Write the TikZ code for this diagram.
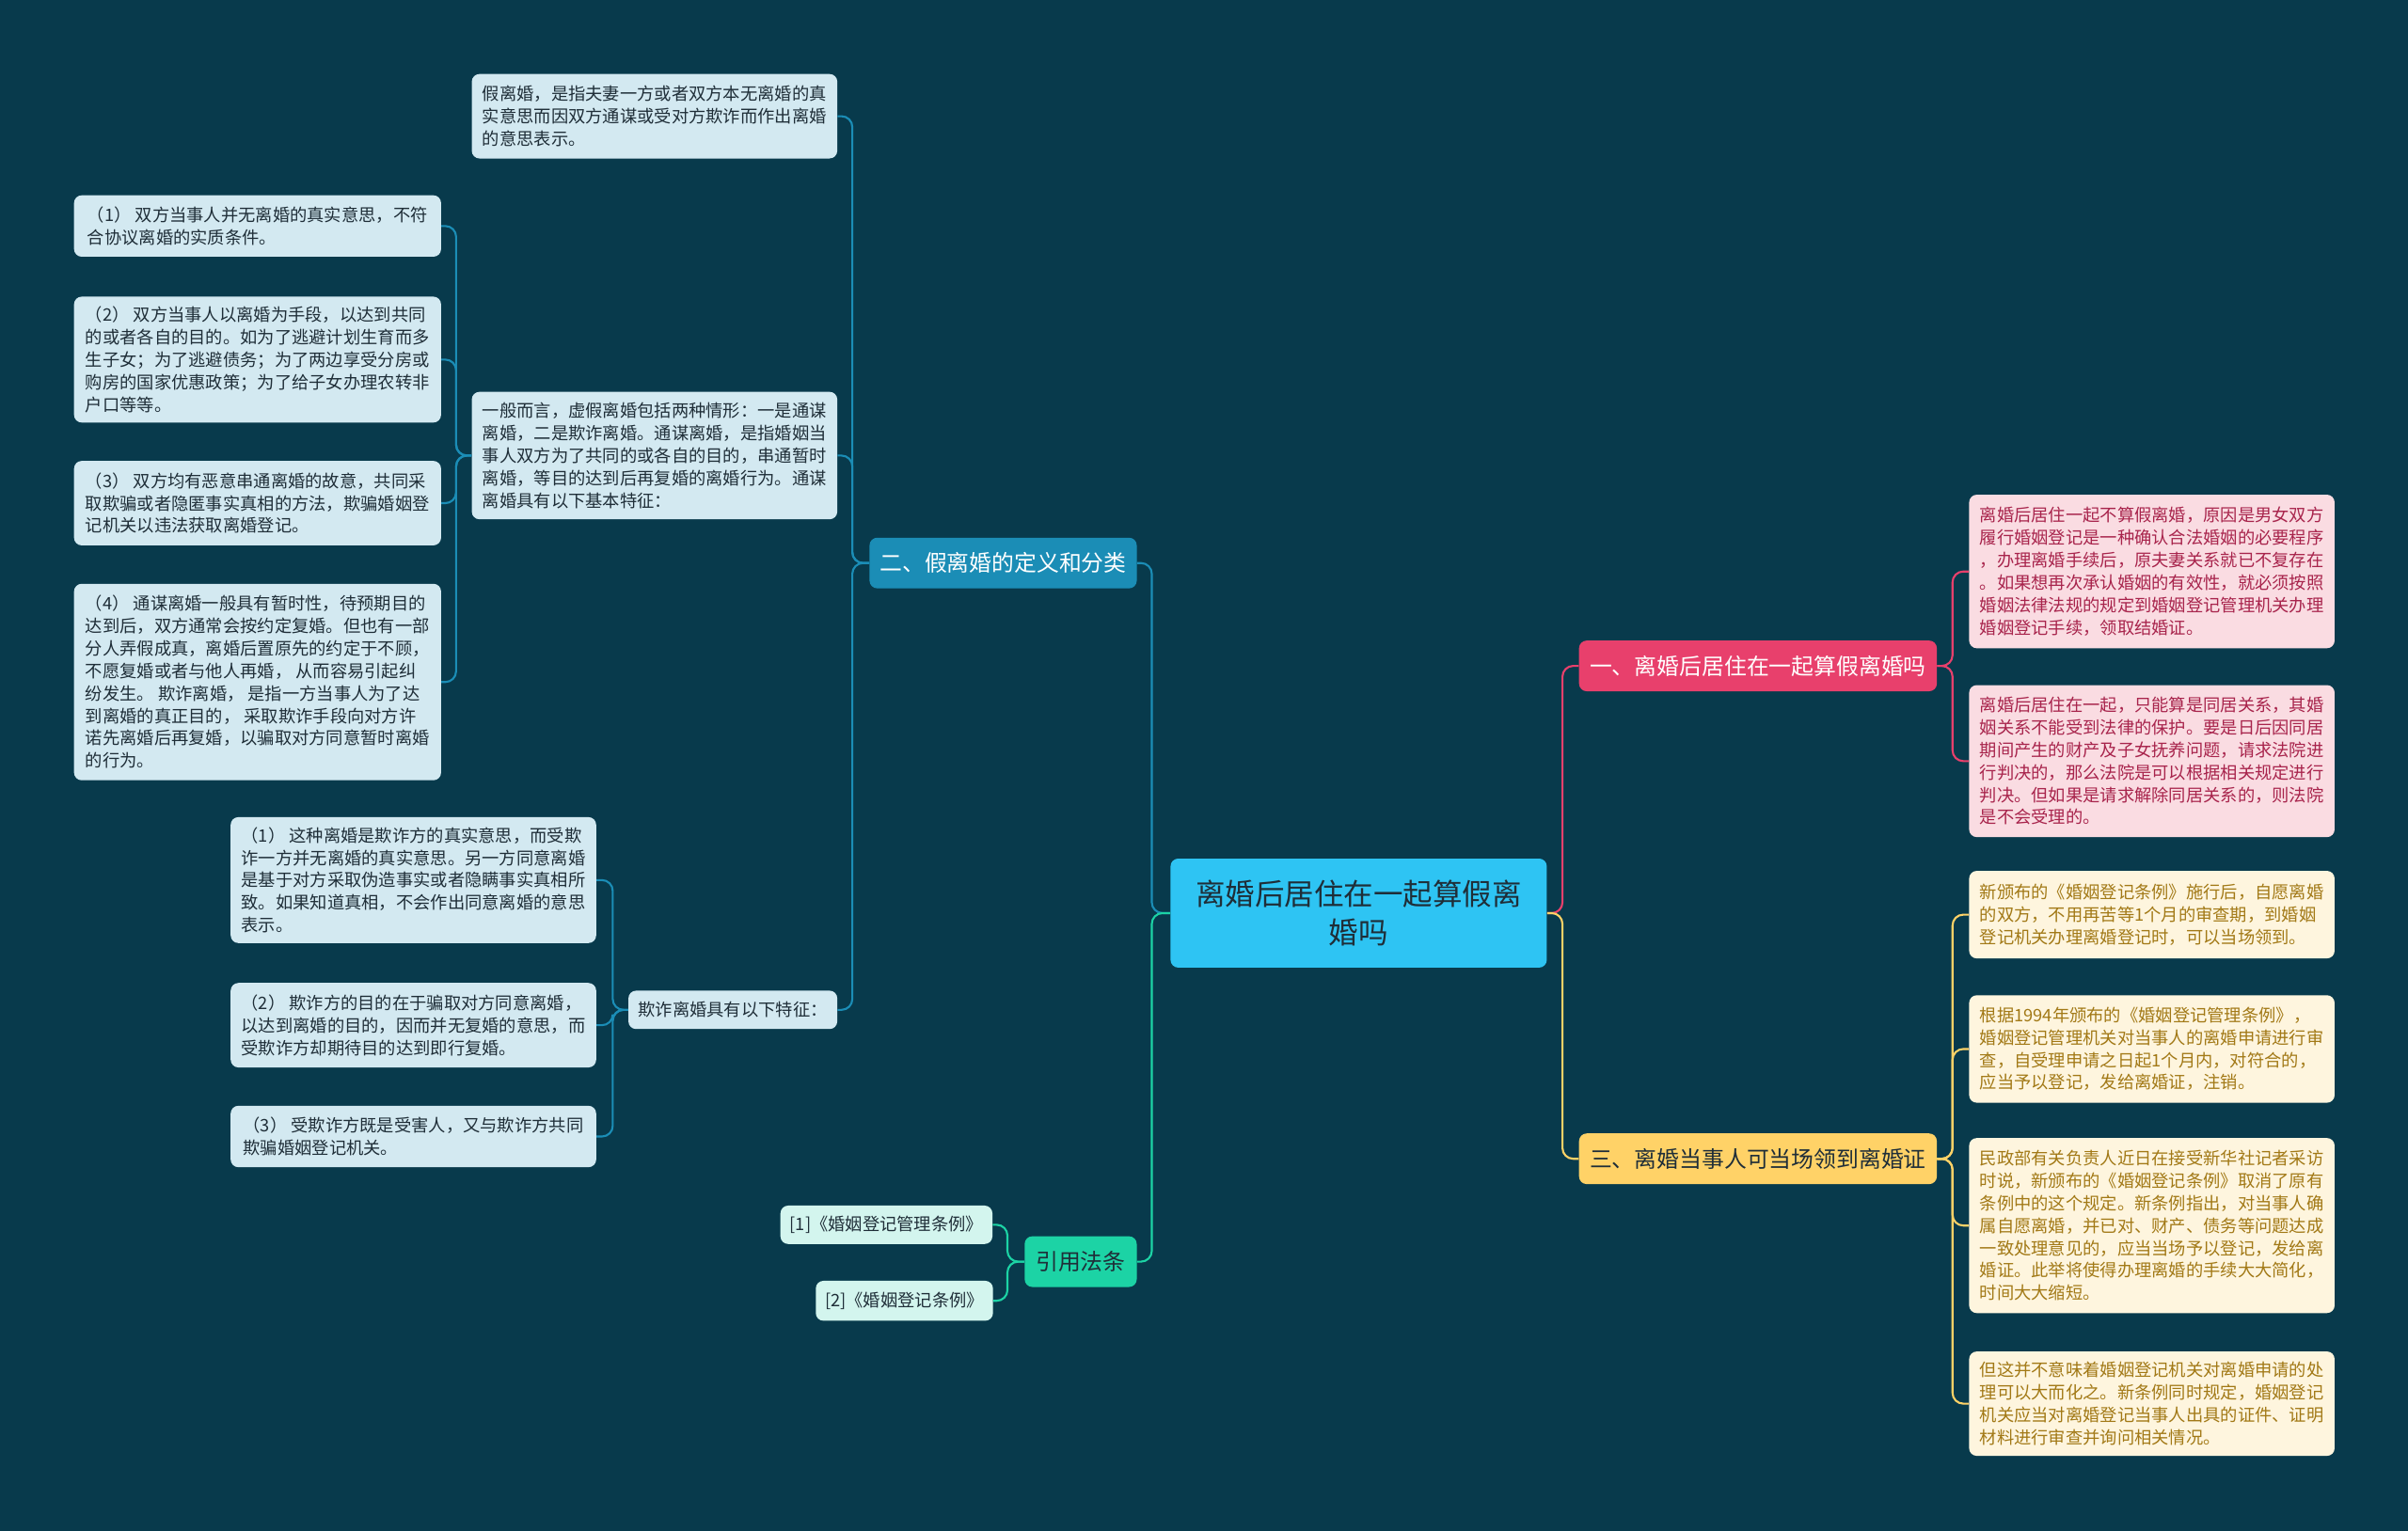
\documentclass[tikz,border=0pt]{standalone}
\usepackage{fontspec}
\setmainfont{Noto Sans CJK SC}

\definecolor{bgcol}{HTML}{083A4C}
\definecolor{rootfill}{HTML}{2EC4F3}
\definecolor{darktext}{HTML}{1F2E38}
\definecolor{bluefill}{HTML}{1B8DB6}
\definecolor{blueleaf}{HTML}{D3E9F1}
\definecolor{pinkfill}{HTML}{E8406C}
\definecolor{pinkleaf}{HTML}{FADCE2}
\definecolor{pinktext}{HTML}{A8244C}
\definecolor{yellowfill}{HTML}{FFD267}
\definecolor{yellowleaf}{HTML}{FEF5DE}
\definecolor{yellowtext}{HTML}{A27916}
\definecolor{greenfill}{HTML}{1CD3A5}
\definecolor{greenleaf}{HTML}{D3F5EE}

\begin{document}
\begin{tikzpicture}[x=1pt, y=-1pt,
    box/.style={anchor=north west, rounded corners=5, inner xsep=5, inner ysep=1,
        align=left, minimum width=238, font=\fontsize{11.2}{14.6}\selectfont},
    bbox/.style={box, fill=blueleaf, text=darktext},
    pbox/.style={box, fill=pinkleaf, text=pinktext},
    ybox/.style={box, fill=yellowleaf, text=yellowtext},
    gbox/.style={box, fill=greenleaf, text=darktext, minimum width=0, inner xsep=6},
    branch/.style={anchor=north west, rounded corners=5, inner sep=1, minimum height=33,
        font=\fontsize{14.6}{18}\selectfont},
    link/.style={line width=1.3, rounded corners=7},
    bline/.style={link, draw=bluefill},
    pline/.style={link, draw=pinkfill},
    yline/.style={link, draw=yellowfill},
    gline/.style={link, draw=greenfill}]

\useasboundingbox (0,0) rectangle (1568,997);
\fill[bgcol] (0,0) rectangle (1568,997);

% Root and main branches
\node[anchor=north west, rounded corners=5, fill=rootfill, text=darktext, align=center,
    minimum width=245, minimum height=71, font=\fontsize{19.3}{25}\selectfont]
    (root) at (762,559) {离婚后居住在一起算假离\\婚吗};
\node[branch, fill=bluefill, text=white, minimum width=174] (br2) at (566,350) {二、假离婚的定义和分类};
\node[branch, fill=pinkfill, text=white, minimum width=233] (br1) at (1028,417) {一、离婚后居住在一起算假离婚吗};
\node[branch, fill=yellowfill, text=darktext, minimum width=233] (br3) at (1028,738) {三、离婚当事人可当场领到离婚证};
\node[branch, fill=greenfill, text=darktext, minimum width=73] (br4) at (667,805) {引用法条};

% Definition and classification
\node[bbox, minimum height=55] (def) at (307,48) {假离婚，是指夫妻一方或者双方本无离婚的真\\实意思而因双方通谋或受对方欺诈而作出离婚\\的意思表示。};
\node[bbox, minimum height=83] (tm) at (307,255) {一般而言，虚假离婚包括两种情形：一是通谋\\离婚，二是欺诈离婚。通谋离婚，是指婚姻当\\事人双方为了共同的或各自的目的，串通暂时\\离婚，等目的达到后再复婚的离婚行为。通谋\\离婚具有以下基本特征：};
\node[bbox, minimum width=136, minimum height=25] (qz) at (409,645) {欺诈离婚具有以下特征：};

\node[bbox, minimum width=239, minimum height=40] (t1) at (48,127) {（1） 双方当事人并无离婚的真实意思，不符\\合协议离婚的实质条件。};
\node[bbox, minimum width=239, minimum height=82] (t2) at (48,193) {（2） 双方当事人以离婚为手段，以达到共同\\的或者各自的目的。如为了逃避计划生育而多\\生子女；为了逃避债务；为了两边享受分房或\\购房的国家优惠政策；为了给子女办理农转非\\户口等等。};
\node[bbox, minimum width=239, minimum height=55] (t3) at (48,300) {（3） 双方均有恶意串通离婚的故意，共同采\\取欺骗或者隐匿事实真相的方法，欺骗婚姻登\\记机关以违法获取离婚登记。};
\node[bbox, minimum width=239, minimum height=128] (t4) at (48,380) {（4） 通谋离婚一般具有暂时性，待预期目的\\达到后，双方通常会按约定复婚。但也有一部\\分人弄假成真，离婚后置原先的约定于不顾，\\不愿复婚或者与他人再婚， 从而容易引起纠\\纷发生。 欺诈离婚， 是指一方当事人为了达\\到离婚的真正目的， 采取欺诈手段向对方许\\诺先离婚后再复婚，以骗取对方同意暂时离婚\\的行为。};

\node[bbox, minimum height=82] (q1) at (150,532) {（1） 这种离婚是欺诈方的真实意思，而受欺\\诈一方并无离婚的真实意思。另一方同意离婚\\是基于对方采取伪造事实或者隐瞒事实真相所\\致。如果知道真相，不会作出同意离婚的意思\\表示。};
\node[bbox, minimum height=55] (q2) at (150,640) {（2） 欺诈方的目的在于骗取对方同意离婚，\\以达到离婚的目的，因而并无复婚的意思，而\\受欺诈方却期待目的达到即行复婚。};
\node[bbox, minimum height=40] (q3) at (150,720) {（3） 受欺诈方既是受害人，又与欺诈方共同\\欺骗婚姻登记机关。};

% Living together after divorce
\node[pbox, minimum height=100] (p1) at (1282,322) {离婚后居住一起不算假离婚，原因是男女双方\\履行婚姻登记是一种确认合法婚姻的必要程序\\，办理离婚手续后，原夫妻关系就已不复存在\\。如果想再次承认婚姻的有效性，就必须按照\\婚姻法律法规的规定到婚姻登记管理机关办理\\婚姻登记手续，领取结婚证。};
\node[pbox, minimum height=99] (p2) at (1282,446) {离婚后居住在一起，只能算是同居关系，其婚\\姻关系不能受到法律的保护。要是日后因同居\\期间产生的财产及子女抚养问题，请求法院进\\行判决的，那么法院是可以根据相关规定进行\\判决。但如果是请求解除同居关系的，则法院\\是不会受理的。};

% Certificate on the spot
\node[ybox, minimum height=57] (y1) at (1282,567) {新颁布的《婚姻登记条例》施行后，自愿离婚\\的双方，不用再苦等1个月的审查期，到婚姻\\登记机关办理离婚登记时，可以当场领到。};
\node[ybox, minimum height=70] (y2) at (1282,648) {根据1994年颁布的《婚姻登记管理条例》，\\婚姻登记管理机关对当事人的离婚申请进行审\\查，自受理申请之日起1个月内，对符合的，\\应当予以登记，发给离婚证，注销。};
\node[ybox, minimum height=114] (y3) at (1282,741) {民政部有关负责人近日在接受新华社记者采访\\时说，新颁布的《婚姻登记条例》取消了原有\\条例中的这个规定。新条例指出，对当事人确\\属自愿离婚，并已对、财产、债务等问题达成\\一致处理意见的，应当当场予以登记，发给离\\婚证。此举将使得办理离婚的手续大大简化，\\时间大大缩短。};
\node[ybox, minimum height=68] (y4) at (1282,880) {但这并不意味着婚姻登记机关对离婚申请的处\\理可以大而化之。新条例同时规定，婚姻登记\\机关应当对离婚登记当事人出具的证件、证明\\材料进行审查并询问相关情况。};

% Cited regulations
\node[gbox, minimum width=138, minimum height=25] (l1) at (508,785) {[1]《婚姻登记管理条例》};
\node[gbox, minimum width=115, minimum height=26] (l2) at (531,834) {[2]《婚姻登记条例》};

% Connectors
\draw[bline] (root.west) -- ++(-12,0) |- (br2.east);
\draw[gline] (root.west) -- ++(-12,0) |- (br4.east);
\draw[pline] (root.east) -- ++(10,0) |- (br1.west);
\draw[yline] (root.east) -- ++(10,0) |- (br3.west);

\foreach \c in {def,tm,qz} \draw[bline] (br2.west) -- ++(-11,0) |- (\c.east);
\foreach \c in {t1,t2,t3,t4} \draw[bline] (tm.west) -- ++(-10,0) |- (\c.east);
\foreach \c in {q1,q2,q3} \draw[bline] (qz.west) -- ++(-10,0) |- (\c.east);
\foreach \c in {p1,p2} \draw[pline] (br1.east) -- ++(10,0) |- (\c.west);
\foreach \c in {y1,y2,y3,y4} \draw[yline] (br3.east) -- ++(10,0) |- (\c.west);
\foreach \c in {l1,l2} \draw[gline] (br4.west) -- ++(-11,0) |- (\c.east);

\end{tikzpicture}
\end{document}
